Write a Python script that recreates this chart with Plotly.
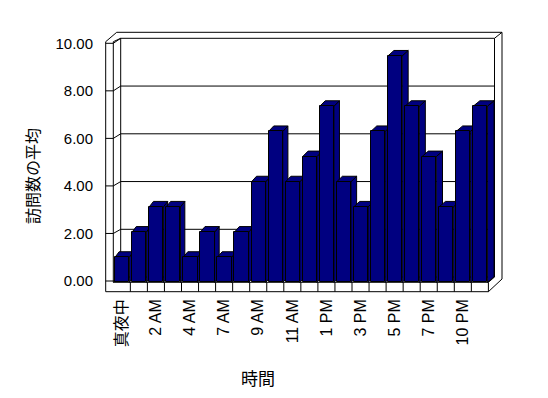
import plotly.graph_objects as go

# ---------------- data ----------------
categories = ["真夜中", "1 AM", "2 AM", "3 AM", "4 AM", "6 AM", "7 AM", "8 AM",
              "9 AM", "10 AM", "11 AM", "正午", "1 PM", "2 PM", "3 PM", "4 PM",
              "5 PM", "6 PM", "7 PM", "8 PM", "10 PM", "11 PM"]
visits_avg = [1, 2, 3, 3, 1, 2, 1, 2, 4, 6, 4, 5, 7, 4, 3, 6, 9, 7, 5, 3, 6, 7]
y_ticks = [0, 2, 4, 6, 8, 10]
x_title = "時間"
y_title = "訪問数の平均"

# ---------------- geometry (page pixels; the page body adds an 8px margin) ----------------
W, H = 548, 398
OFF = 8
PL, PR, PT, PB = 104, 506, 30, 294          # plot area (page coords)

X0, CW = 113.3, 17.05                       # first category left edge, category width
Y1_0, S1 = 281.0, 23.77                     # label axis: zero pixel, px per unit
Y2_0, S2 = 282.4, 25.16                     # bar (front) axis
YB_0, SB = 277.05, 23.875                   # back wall scale


def xd(p):
    return (p - X0) / CW - 0.5


def yd(p):
    return (Y1_0 - p) / S1


def yd2(p):
    return (Y2_0 - p) / S2


def P(px, py):
    return f"{xd(px):.4f},{yd(py):.4f}"


n = len(categories)
idx = list(range(n))
NAVY = "#000080"

FL, LW, BWL, BWR, OR, CR = 105.7, X0, 120.7, 494.5, 502.0, X0 + CW * n
TOP_OUT, BW_TOP, LW_TOP = 32.3, 38.3, 41.7
BW_BOT, FLOOR_TOP, FLOOR_BOT, FLOOR_BACK = 277.0, 282.3, 291.7, 279.0

shapes = []
line_k = dict(color="black", width=1)

# outer silhouette of the 3D box
shapes.append(dict(type="path", xref="x", yref="y", layer="below",
                   path=f"M{P(FL, LW_TOP)} L{P(116.7, TOP_OUT)} L{P(OR, TOP_OUT)} "
                        f"L{P(OR, FLOOR_BACK)} L{P(CR, FLOOR_BOT)} L{P(FL, FLOOR_BOT)} Z",
                   fillcolor="white", line=line_k))
# back wall front face
shapes.append(dict(type="path", xref="x", yref="y", layer="below",
                   path=f"M{P(BWL, BW_TOP)} L{P(BWR, BW_TOP)} L{P(BWR, BW_BOT)} L{P(BWL, BW_BOT)} Z",
                   fillcolor="white", line=line_k))
# assorted edges
edges = [
    ((LW, LW_TOP), (LW, FLOOR_TOP)),
    ((LW, LW_TOP), (BWL, BW_TOP)),
    ((BWR, BW_TOP), (OR, TOP_OUT)),
    ((LW, FLOOR_TOP), (CR, FLOOR_TOP)),
    ((CR, FLOOR_TOP), (CR, FLOOR_BOT)),
    ((CR, FLOOR_TOP), (BWR, BW_BOT)),
    ((LW, FLOOR_TOP), (BWL, BW_BOT)),
]
for (a, b) in edges:
    shapes.append(dict(type="path", xref="x", yref="y", layer="below",
                       path=f"M{P(*a)} L{P(*b)}", line=line_k))
# floor category cells
for k in range(1, n):
    xk = k - 0.5
    shapes.append(dict(type="line", xref="x", yref="y", layer="below",
                       x0=xk, x1=xk, y0=yd(FLOOR_TOP), y1=yd(FLOOR_BOT), line=line_k))
# gridlines on back wall + ticks on left wall
for v in y_ticks:
    yb = YB_0 - SB * v
    yf = Y1_0 - S1 * v
    if 0 < v < 10:
        shapes.append(dict(type="path", xref="x", yref="y", layer="below",
                           path=f"M{P(BWL, yb)} L{P(BWR, yb)}", line=line_k))
    shapes.append(dict(type="path", xref="x", yref="y", layer="below",
                       path=f"M{P(FL, yf)} L{P(LW, yf)} L{P(BWL, yb)}", line=line_k))

# bar top and side faces (3D look), from the data on the bar axis
BAR_OFF = 1.8 / CW
BAR_W = 14.2 / CW
DDY = 5.5 / S2
for i, v in enumerate(visits_avg):
    xl = i - 0.5 + BAR_OFF
    xr = xl + BAR_W
    ddx = (4.0 + 2.7 * i / (n - 1)) / CW
    shapes.append(dict(type="path", xref="x", yref="y2", layer="below",
                       path=f"M{xr},0 L{xr},{v} L{xr + ddx},{v + DDY} L{xr + ddx},{DDY} Z",
                       fillcolor=NAVY, line=line_k))
    shapes.append(dict(type="path", xref="x", yref="y2", layer="below",
                       path=f"M{xl},{v} L{xr},{v} L{xr + ddx},{v + DDY} L{xl + ddx},{v + DDY} Z",
                       fillcolor=NAVY, line=line_k))

fig = go.Figure()
# invisible trace to keep the label axis active
fig.add_trace(go.Scatter(x=[0], y=[0], mode="markers", marker=dict(opacity=0),
                         hoverinfo="skip", showlegend=False, yaxis="y"))
fig.add_trace(go.Bar(x=idx, y=visits_avg, yaxis="y2", width=BAR_W, offset=BAR_OFF - 0.5,
                     marker=dict(color=NAVY, line=dict(color="black", width=1)),
                     showlegend=False))

FONT = "Liberation Sans, Arial, Noto Sans CJK JP, sans-serif"
fig.update_layout(
    width=W, height=H,
    margin=dict(l=PL - OFF, r=W - (PR - OFF), t=PT - OFF, b=H - (PB - OFF), pad=0),
    paper_bgcolor="white", plot_bgcolor="white",
    font=dict(family=FONT, size=15, color="black"),
    shapes=shapes,
    bargap=0,
    xaxis=dict(range=[xd(PL), xd(PR)], tickvals=idx[::2], ticktext=categories[::2],
               tickangle=-90, showgrid=False, zeroline=False, showline=False,
               ticks="", ticklabelstandoff=1, fixedrange=True,
               tickfont=dict(size=16)),
    yaxis=dict(range=[yd(PB), yd(PT)], tickvals=y_ticks, tickformat=".2f",
               showgrid=False, zeroline=False, showline=False, ticks="",
               ticklabelstandoff=10, fixedrange=True),
    yaxis2=dict(range=[yd2(PB), yd2(PT)], overlaying="y", visible=False,
                showgrid=False, zeroline=False, fixedrange=True),
    annotations=[
        dict(text=x_title, xref="paper", yref="paper",
             x=(258 - PL) / (PR - PL), y=(PB - 377) / (PB - PT),
             showarrow=False, xanchor="center", yanchor="middle",
             font=dict(family="Noto Sans CJK JP", size=17)),
        dict(text=y_title, xref="paper", yref="paper",
             x=(32 - PL) / (PR - PL), y=(PB - 176) / (PB - PT), textangle=-90,
             showarrow=False, xanchor="center", yanchor="middle",
             font=dict(family="Noto Sans CJK JP", size=16)),
    ],
)

fig.write_html("out.html")
